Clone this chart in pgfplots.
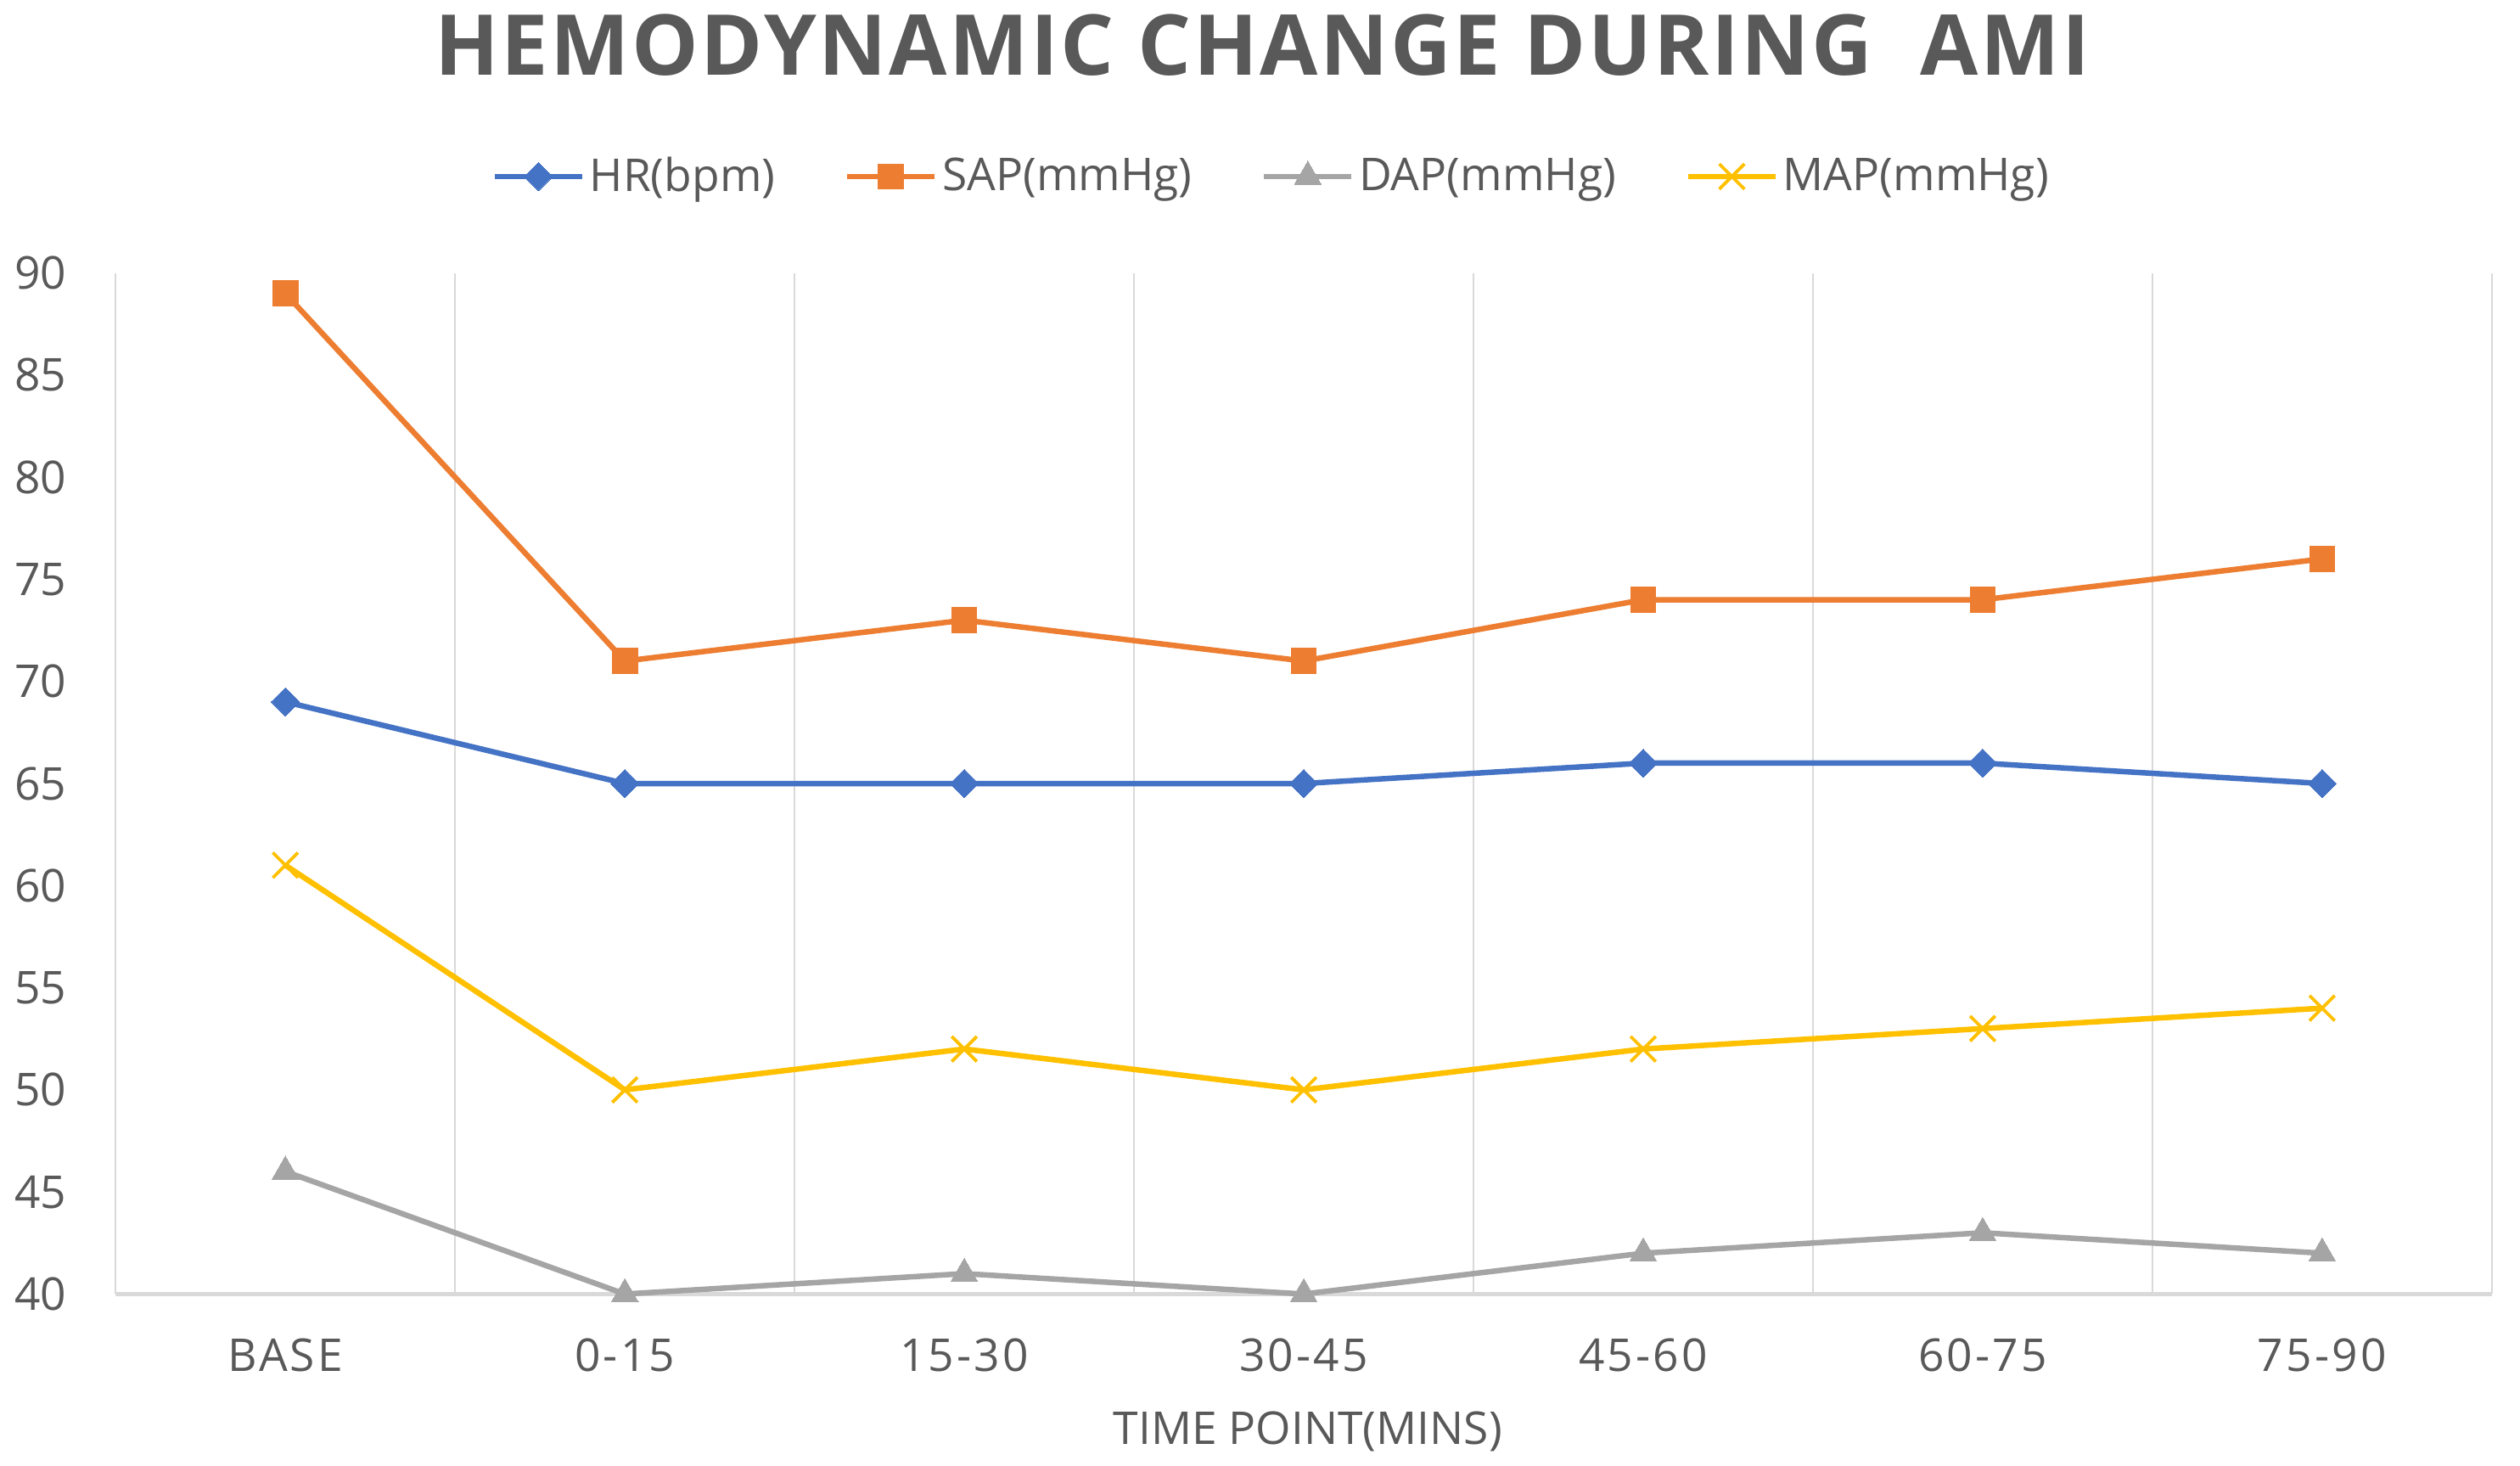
\documentclass[border=0pt]{standalone}
\usepackage{fontspec}
\setmainfont{Open Sans}
\usepackage{pgfplots}
\pgfplotsset{compat=1.18}
\definecolor{hrc}{HTML}{4472C4}
\definecolor{sapc}{HTML}{ED7D31}
\definecolor{dapc}{HTML}{A5A5A5}
\definecolor{mapc}{HTML}{FFC000}
\definecolor{gridc}{HTML}{D9D9D9}
\definecolor{textc}{HTML}{595959}
\begin{document}
\begin{tikzpicture}
\path[fill=white] (-35.8pt,-53.2pt) rectangle (744.2pt,400.5pt);
\begin{axis}[
  scale only axis, width=735.5pt, height=316pt,
  xmin=-0.5, xmax=6.5, ymin=40, ymax=90,
  xtick={0,...,6},
  xticklabels={BASE,0-15,15-30,30-45,45-60,60-75,75-90},
  ytick={40,45,...,90},
  minor xtick={-0.5,0.5,...,6.5},
  xminorgrids,
  minor grid style={draw=gridc, line width=0.6pt},
  extra y ticks={40}, extra y tick labels={},
  extra y tick style={ymajorgrids=true, major grid style={draw=gridc, line width=1.1pt}},
  axis line style={draw=none},
  major tick length=0pt, minor tick length=0pt,
  clip=false,
  /pgf/number format/assume math mode=true,
  yticklabel style={font=\fontsize{14}{16}\selectfont, text=textc, inner sep=0pt, anchor=east, xshift=-15pt},
  xticklabel style={font=\addfontfeature{LetterSpace=6}\fontsize{14}{16}\selectfont, text=textc, inner sep=0pt, anchor=north, yshift=-13.5pt},
  legend columns=4,
  legend style={draw=none, fill=none, at={(0.487,1.0945)}, anchor=center,
    font=\fontsize{14}{16}\selectfont, text=textc,
    /tikz/every even column/.append style={column sep=20pt},
    nodes={inner sep=1.5pt}},
  legend image code/.code={\draw[mark repeat=2,mark phase=2] plot coordinates {(0pt,0pt) (13.5pt,0pt) (27pt,0pt)};},
  every axis plot/.append style={line width=1.7pt},
]
\addplot[hrc, mark=square*, mark size=3.1pt, mark options={solid, line width=0pt, rotate=45}]
  coordinates {(0,69) (1,65) (2,65) (3,65) (4,66) (5,66) (6,65)};
\addlegendentry{HR(bpm)}
\addplot[sapc, mark=square*, mark size=3.9pt, mark options={solid, line width=0pt}]
  coordinates {(0,89) (1,71) (2,73) (3,71) (4,74) (5,74) (6,76)};
\addlegendentry{SAP(mmHg)}
\addplot[dapc, mark=triangle*, mark size=4.8pt, mark options={solid, line width=0pt}]
  coordinates {(0,46) (1,40) (2,41) (3,40) (4,42) (5,43) (6,42)};
\addlegendentry{DAP(mmHg)}
\addplot[mapc, mark=x, mark size=5.5pt, mark options={solid, line width=1pt}]
  coordinates {(0,61) (1,50) (2,52) (3,50) (4,52) (5,53) (6,54)};
\addlegendentry{MAP(mmHg)}
\end{axis}
\node[font=\addfontfeature{LetterSpace=2.5}\fontsize{26}{30}\selectfont\bfseries, text=textc] at (355pt,386.5pt) {HEMODYNAMIC CHANGE DURING\ \ AMI};
\node[font=\fontsize{14}{16}\selectfont, text=textc] at (369pt,-42.5pt) {TIME POINT(MINS)};
\end{tikzpicture}
\end{document}
